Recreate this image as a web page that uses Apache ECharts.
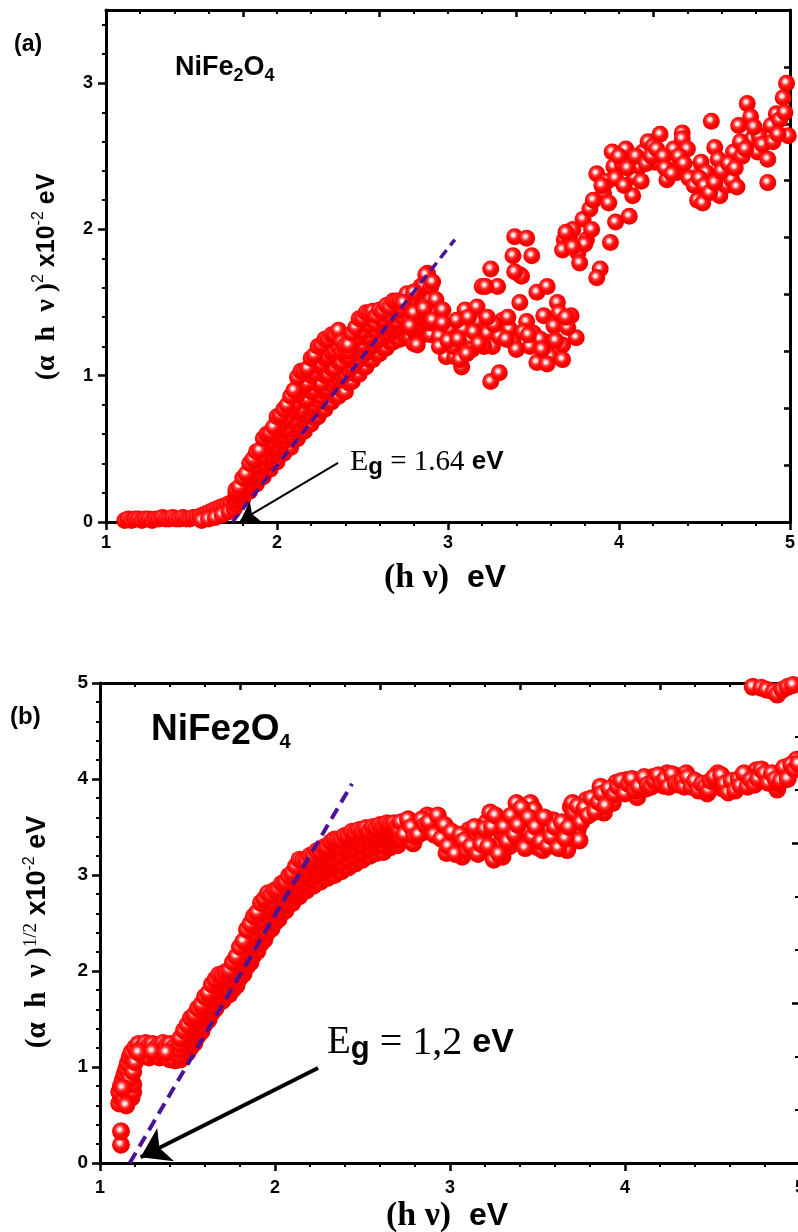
<!DOCTYPE html>
<html><head><meta charset="utf-8">
<script src="https://cdn.jsdelivr.net/npm/echarts@6/dist/echarts.min.js"></script>
<style>html,body{margin:0;padding:0;background:#fff}#c{width:798px;height:1232px}</style>
</head><body><div id="c"></div>
<script>
// ---------- Panel (a): (alpha h nu)^2 vs h nu ----------
const flatA = [[1.11,0.01],[1.13,0.02],[1.15,0.01],[1.17,0.02],[1.19,0.02],[1.21,0.01],[1.23,0.02],[1.25,0.02],[1.27,0.01],[1.29,0.02],[1.31,0.02],[1.33,0.03],[1.35,0.02],[1.37,0.02],[1.39,0.03],[1.41,0.02],[1.43,0.02],[1.45,0.03],[1.47,0.02],[1.49,0.02],[1.51,0.03],[1.53,0.03]];
const edgeA = [[1.55,0.04],[1.57,0.05],[1.59,0.06],[1.61,0.07],[1.63,0.08],[1.65,0.09],[1.67,0.10],[1.69,0.11],[1.71,0.12],[1.73,0.13],[1.75,0.15],[1.56,0.01],[1.60,0.02],[1.64,0.03],[1.68,0.05],[1.72,0.07],[1.75,0.09]];
const riseXA = [1.76,1.78,1.80,1.82,1.84,1.86,1.88,1.90,1.92,1.94,1.96,1.98,2.00,2.02,2.04,2.06,2.08,2.10,2.12,2.14,2.16,2.18,2.20,2.22,2.24,2.26,2.28,2.30,2.32,2.34,2.36,2.38,2.40,2.42,2.44,2.46,2.48,2.50,2.52,2.54,2.56,2.58,2.60,2.62,2.64,2.66,2.68,2.70,2.72,2.74,2.76,2.78,2.80,2.82,2.84,2.86,2.88,2.90];
const riseLoA  = [0.12,0.16,0.16,0.20,0.21,0.25,0.26,0.30,0.31,0.36,0.36,0.41,0.41,0.46,0.47,0.51,0.51,0.56,0.57,0.61,0.62,0.66,0.67,0.71,0.72,0.76,0.77,0.81,0.82,0.86,0.86,0.90,0.89,0.95,0.96,1.01,1.01,1.06,1.06,1.11,1.11,1.15,1.15,1.19,1.19,1.23,1.23,1.26,1.25,1.28,1.27,1.26,1.22,1.26,1.27,1.31,1.31,1.28];
const riseQ1A  = [0.15,0.17,0.20,0.23,0.26,0.28,0.32,0.34,0.38,0.41,0.44,0.46,0.50,0.52,0.55,0.58,0.60,0.63,0.66,0.69,0.73,0.75,0.78,0.80,0.83,0.86,0.89,0.91,0.94,0.96,0.98,1.00,1.01,1.04,1.06,1.09,1.11,1.14,1.16,1.19,1.21,1.23,1.25,1.26,1.28,1.29,1.31,1.32,1.33,1.34,1.35,1.33,1.31,1.33,1.35,1.38,1.40,1.36];
const riseMidA = [0.18,0.19,0.24,0.26,0.31,0.32,0.38,0.39,0.45,0.46,0.51,0.52,0.58,0.59,0.63,0.64,0.69,0.70,0.75,0.77,0.83,0.84,0.89,0.90,0.94,0.95,1.00,1.01,1.05,1.05,1.09,1.09,1.13,1.13,1.17,1.17,1.21,1.21,1.26,1.27,1.31,1.31,1.34,1.33,1.36,1.35,1.38,1.37,1.41,1.40,1.43,1.39,1.39,1.39,1.43,1.44,1.48,1.43];
const riseQ3A  = [0.20,0.22,0.27,0.30,0.35,0.38,0.43,0.44,0.51,0.53,0.55,0.59,0.65,0.66,0.70,0.72,0.77,0.80,0.87,0.90,0.93,0.95,1.00,1.02,1.07,1.08,1.12,1.13,1.16,1.17,1.20,1.16,1.17,1.17,1.23,1.25,1.30,1.30,1.35,1.35,1.38,1.36,1.40,1.38,1.42,1.41,1.45,1.44,1.46,1.46,1.50,1.45,1.48,1.48,1.52,1.53,1.59,1.52];
const riseHiA  = [0.22,0.24,0.30,0.33,0.40,0.43,0.48,0.49,0.57,0.60,0.61,0.65,0.72,0.73,0.77,0.80,0.86,0.90,0.99,1.03,1.03,1.05,1.12,1.14,1.20,1.21,1.25,1.25,1.28,1.28,1.31,1.23,1.21,1.21,1.29,1.33,1.39,1.39,1.43,1.43,1.44,1.41,1.45,1.44,1.48,1.47,1.51,1.51,1.51,1.52,1.56,1.51,1.57,1.57,1.61,1.62,1.70,1.61];
const clusterA = [[2.74,1.50],[2.80,1.57],[2.87,1.69],[2.91,1.64],[2.93,1.52],[2.80,1.43],[2.86,1.46],[2.78,1.34],[2.82,1.21],[2.97,1.45],[2.91,1.38],[3.01,1.32],[2.95,1.27],[2.99,1.13],[3.04,1.13],[3.08,1.06],[3.10,1.45],[3.17,1.47],[3.09,1.32],[3.13,1.25],[3.17,1.37],[3.19,1.29],[3.14,1.18],[3.23,1.29],[3.25,1.73],[3.20,1.61],[3.29,1.61],[3.25,0.96],[3.30,1.02],[3.26,1.20],[3.32,1.38],[3.36,1.32],[3.30,1.27],[3.38,1.23],[3.42,1.50],[3.38,1.82],[3.42,1.69],[3.49,1.82],[3.52,1.57],[3.58,1.61],[3.64,1.50],[3.46,1.37],[3.50,1.29],[3.56,1.41],[3.62,1.34],[3.65,1.43],[3.72,1.41],[3.75,1.26],[3.67,1.21],[3.60,1.23],[3.54,1.25],[3.48,1.20],[3.52,1.09],[3.60,1.13],[3.67,1.11],[3.58,1.08],[3.40,1.18],[3.03,1.20],[3.07,1.11],[2.95,1.20],[3.39,1.95],[3.46,1.94],[3.43,1.68],[3.22,1.61],[3.39,1.71],[3.05,1.38],[3.12,1.40],[3.21,1.20],[3.27,1.35],[3.34,1.25],[3.00,1.24],[3.15,1.30],[3.44,1.30],[3.70,1.33],[2.97,1.36],[3.06,1.25],[3.11,1.15],[3.18,1.22],[3.23,1.40],[3.35,1.40],[3.47,1.28],[3.55,1.18],[3.63,1.24],[3.69,1.40]];
const upperA = [[3.68,1.93],[3.71,1.94],[3.76,1.84],[3.77,1.77],[3.81,1.93],[3.79,2.07],[3.83,2.14],[3.67,1.86],[3.73,2.00],[3.89,1.73],[3.87,1.67],[3.95,1.91],[3.87,2.38],[3.91,2.25],[3.93,2.33],[3.94,2.18],[3.85,2.20],[3.96,2.53],[3.97,2.43],[4.02,2.45],[4.04,2.55],[4.06,2.09],[4.08,2.23],[4.09,2.36],[4.12,2.43],[4.14,2.53],[4.17,2.60],[4.20,2.57],[4.24,2.65],[4.21,2.46],[4.28,2.34],[4.30,2.46],[4.32,2.55],[4.37,2.66],[4.37,2.62],[4.40,2.55],[4.34,2.39],[4.43,2.41],[4.46,2.20],[4.49,2.18],[4.48,2.46],[4.51,2.39],[4.54,2.74],[4.56,2.56],[4.58,2.48],[4.59,2.23],[4.63,2.30],[4.66,2.34],[4.67,2.53],[4.69,2.29],[4.70,2.71],[4.72,2.50],[4.75,2.86],[4.77,2.77],[4.78,2.62],[4.82,2.64],[4.81,2.53],[4.87,2.32],[4.87,2.48],[4.89,2.71],[4.92,2.79],[4.94,2.75],[4.96,2.90],[4.98,3.00],[4.99,2.64],
  [3.90,2.30],[3.98,2.35],[4.00,2.50],[4.05,2.42],[4.10,2.50],[4.13,2.33],[4.16,2.45],[4.19,2.50],[4.22,2.55],[4.26,2.50],[4.27,2.42],[4.31,2.38],[4.35,2.50],[4.38,2.45],[4.41,2.35],[4.44,2.30],[4.47,2.35],[4.50,2.30],[4.53,2.25],[4.56,2.32],[4.60,2.40],[4.64,2.45],[4.68,2.42],[4.71,2.60],[4.74,2.55],[4.79,2.70],[4.84,2.58],[4.90,2.60],[4.93,2.65],[4.97,2.80],[3.98,2.05],[4.03,2.30],[3.80,1.90],[3.84,2.00],[3.73,1.88],[3.69,1.98]];
const fitA = [[1.74,0],[3.04,1.93]];
const arrowA = [[2.357,0.404],[1.786,0.008]];

// ---------- Panel (b): (alpha h nu)^(1/2) vs h nu ----------
const lowB = [[1.12,0.19],[1.12,0.33],[1.11,0.62],[1.12,0.68],[1.11,0.74],[1.12,0.80],[1.13,0.86],[1.14,0.92],[1.15,0.98],[1.16,1.04],[1.17,1.10],[1.18,1.15],[1.20,1.20],[1.22,1.24],[1.14,0.66],[1.16,0.72],[1.18,0.68],[1.19,0.74],[1.19,0.82],[1.17,0.88],[1.19,0.95],[1.20,1.05],[1.15,0.60],[1.13,0.78],[1.24,1.20],[1.26,1.25],[1.28,1.22],[1.30,1.24],[1.32,1.20],[1.34,1.23],[1.36,1.25],[1.38,1.22],[1.40,1.24],[1.42,1.20],[1.44,1.18],[1.25,1.12],[1.28,1.10],[1.31,1.13],[1.34,1.10],[1.37,1.12],[1.40,1.08],[1.43,1.07],[1.22,1.15],[1.30,1.16],[1.38,1.15],[1.45,1.12]];
const riseXB = [1.46,1.48,1.50,1.52,1.54,1.56,1.58,1.60,1.62,1.64,1.66,1.68,1.70,1.72,1.74,1.76,1.78,1.80,1.82,1.84,1.86,1.88,1.90,1.92,1.94,1.96,1.98,2.00,2.02,2.04,2.06,2.08,2.10,2.12,2.14,2.16,2.18,2.20,2.22,2.24,2.26,2.28,2.30,2.32,2.34,2.36,2.38,2.40,2.42,2.44,2.46,2.48,2.50,2.52,2.54,2.56,2.58,2.60,2.62,2.64,2.66,2.68,2.70];
const riseLoB  = [1.08,1.13,1.15,1.21,1.25,1.33,1.37,1.45,1.49,1.57,1.61,1.67,1.69,1.74,1.76,1.81,1.85,1.93,1.97,2.05,2.09,2.17,2.21,2.29,2.33,2.41,2.44,2.51,2.54,2.61,2.63,2.69,2.71,2.77,2.78,2.83,2.84,2.89,2.89,2.93,2.93,2.97,2.97,3.01,3.00,3.04,3.04,3.08,3.08,3.12,3.12,3.16,3.16,3.20,3.20,3.24,3.23,3.27,3.24,3.29,3.29,3.32,3.31];
const riseQ1B  = [1.12,1.19,1.22,1.29,1.33,1.41,1.44,1.51,1.56,1.63,1.67,1.74,1.76,1.81,1.84,1.89,1.93,2.01,2.05,2.13,2.18,2.27,2.31,2.40,2.44,2.52,2.54,2.61,2.64,2.70,2.72,2.78,2.80,2.86,2.87,2.92,2.93,2.97,2.98,3.01,3.02,3.05,3.06,3.09,3.10,3.13,3.13,3.17,3.17,3.21,3.21,3.24,3.24,3.28,3.28,3.31,3.30,3.33,3.31,3.35,3.35,3.38,3.37];
const riseMidB = [1.18,1.25,1.29,1.37,1.41,1.49,1.52,1.59,1.62,1.69,1.73,1.81,1.83,1.89,1.91,1.97,2.01,2.09,2.13,2.21,2.27,2.37,2.42,2.51,2.55,2.63,2.65,2.71,2.73,2.79,2.81,2.87,2.89,2.95,2.96,3.01,3.02,3.06,3.06,3.10,3.10,3.14,3.14,3.18,3.18,3.22,3.22,3.26,3.26,3.30,3.29,3.33,3.32,3.36,3.35,3.38,3.37,3.40,3.39,3.42,3.41,3.44,3.43];
const riseQ3B  = [1.24,1.31,1.37,1.44,1.48,1.55,1.59,1.66,1.70,1.77,1.83,1.88,1.90,1.94,1.97,2.03,2.08,2.17,2.22,2.32,2.38,2.47,2.52,2.61,2.65,2.72,2.72,2.78,2.79,2.85,2.87,2.93,2.95,3.02,3.06,3.08,3.09,3.13,3.13,3.17,3.17,3.21,3.22,3.26,3.28,3.29,3.30,3.33,3.34,3.37,3.37,3.40,3.39,3.42,3.41,3.44,3.43,3.46,3.45,3.48,3.47,3.49,3.47];
const riseHiB  = [1.30,1.38,1.44,1.51,1.54,1.61,1.65,1.73,1.77,1.86,1.91,1.96,1.96,1.99,2.01,2.09,2.15,2.25,2.31,2.43,2.49,2.57,2.61,2.71,2.75,2.81,2.79,2.84,2.85,2.91,2.93,2.99,3.02,3.09,3.16,3.15,3.15,3.20,3.20,3.25,3.25,3.29,3.29,3.34,3.37,3.37,3.37,3.41,3.41,3.45,3.44,3.47,3.46,3.49,3.46,3.50,3.49,3.52,3.51,3.54,3.53,3.54,3.51];
const plateauB = [[2.71,3.47],[2.73,3.38],[2.75,3.50],[2.77,3.42],[2.79,3.33],[2.81,3.50],[2.83,3.55],[2.85,3.45],[2.87,3.62],[2.89,3.60],[2.90,3.50],[2.92,3.55],[2.94,3.48],[2.96,3.44],[2.98,3.23],[3.00,3.35],[3.02,3.30],[3.04,3.40],[3.05,3.25],[3.07,3.19],[3.09,3.30],[3.11,3.47],[3.13,3.38],[3.15,3.28],[3.17,3.45],[3.19,3.40],[3.21,3.55],[3.23,3.65],[3.25,3.16],[3.26,3.30],[3.27,3.57],[3.29,3.45],[3.30,3.19],[3.32,3.40],[3.34,3.30],[3.36,3.50],[3.38,3.75],[3.40,3.60],[3.42,3.36],[3.44,3.45],[3.46,3.75],[3.48,3.68],[3.50,3.29],[3.51,3.54],[3.53,3.26],[3.55,3.40],[3.57,3.48],[3.59,3.57],[3.61,3.36],[3.63,3.44],[3.65,3.47],[3.67,3.26],[3.69,3.71],[3.70,3.75],[3.72,3.60],[3.73,3.47],[3.74,3.36],[3.76,3.62],[3.78,3.78],[3.80,3.70],[3.82,3.75],[3.84,3.71],[3.86,3.92],[3.88,3.65],[3.90,3.80],[3.93,3.75],[3.95,3.96],[3.97,3.88],[3.99,3.90],[4.01,3.99],[4.03,3.90],[4.05,3.92],[4.07,3.81],[4.10,3.96],[4.12,3.90],[4.14,3.98],[4.16,4.02],[4.18,3.95],[4.20,3.98],[4.22,3.93],[4.24,4.06],[4.26,3.96],[4.28,4.00],[4.30,3.99],[4.32,4.03],[4.35,4.06],[4.37,3.97],[4.39,3.99],[4.41,3.95],[4.43,3.92],[4.45,3.88],[4.47,3.85],[4.50,3.92],[4.52,3.98],[4.53,4.06],[4.54,3.99],[4.56,3.90],[4.58,3.89],[4.60,3.94],[4.62,3.92],[4.64,3.96],[4.67,4.02],[4.69,3.98],[4.71,3.96],[4.73,4.04],[4.75,4.09],[4.77,4.05],[4.79,4.02],[4.81,3.98],[4.83,4.02],[4.85,3.95],[4.87,3.89],[4.88,3.95],[4.90,4.06],[4.92,4.04],[4.94,4.09],[4.96,4.12],[4.98,4.20]];
const plateauB2 = [[2.72,3.55],[2.74,3.42],[2.76,3.58],[2.78,3.50],[2.80,3.40],[2.82,3.42],[2.84,3.58],[2.86,3.52],[2.88,3.55],[2.91,3.42],[2.93,3.62],[2.95,3.38],[2.97,3.52],[2.99,3.30],[3.01,3.45],[3.03,3.22],[3.06,3.42],[3.08,3.36],[3.10,3.25],[3.12,3.30],[3.14,3.50],[3.16,3.22],[3.18,3.32],[3.20,3.48],[3.22,3.30],[3.24,3.50],[3.26,3.62],[3.28,3.22],[3.31,3.50],[3.33,3.35],[3.35,3.62],[3.37,3.42],[3.39,3.52],[3.41,3.70],[3.43,3.28],[3.45,3.60],[3.47,3.40],[3.49,3.50],[3.52,3.35],[3.54,3.60],[3.56,3.30],[3.58,3.40],[3.60,3.50],[3.62,3.28],[3.64,3.55],[3.66,3.38],[3.68,3.50],[3.71,3.65],[3.73,3.72],[3.75,3.55],[3.77,3.70],[3.79,3.62],[3.81,3.80],[3.83,3.66],[3.85,3.76],[3.87,3.85],[3.89,3.72],[3.91,3.90],[3.94,3.84],[3.96,3.92],[3.98,3.98],[4.00,3.85],[4.02,3.95],[4.04,4.00],[4.06,3.88],[4.08,3.92],[4.11,4.02],[4.13,3.94],[4.15,3.92],[4.17,3.98],[4.19,4.04],[4.21,3.96],[4.23,4.00],[4.25,3.92],[4.27,4.05],[4.29,3.95],[4.31,3.94],[4.33,3.98],[4.34,3.92],[4.36,4.02],[4.38,3.92],[4.40,3.98],[4.42,3.88],[4.44,3.95],[4.46,3.92],[4.48,3.88],[4.49,3.98],[4.51,4.02],[4.55,4.04],[4.57,3.95],[4.59,3.86],[4.61,3.98],[4.63,3.88],[4.65,4.00],[4.66,3.93],[4.68,4.06],[4.70,3.92],[4.72,3.99],[4.74,3.94],[4.76,4.00],[4.78,4.10],[4.80,4.06],[4.82,3.96],[4.84,4.06],[4.86,4.00],[4.89,3.98],[4.91,4.12],[4.93,4.00],[4.95,4.15],[4.97,4.10],[4.99,4.16]];
const highB = [[4.73,4.96],[4.78,4.95],[4.81,4.93],[4.85,4.91],[4.87,4.88],[4.90,4.93],[4.93,4.96],[4.96,4.98]];
const fitB = [[1.17,0],[2.44,3.95]];
const arrowB = [[2.246,0.99],[1.232,0.06]];

// tick values
const yTicksA = [0,1,2,3];
const yMinorA = [0.2,0.4,0.6,0.8,1.2,1.4,1.6,1.8,2.2,2.4,2.6,2.8,3.2,3.4];

function rows(xs, cols) {
  const out = [];
  cols.forEach(function (c) {
    const n = Math.min(xs.length, c.length);
    for (let i = 0; i < n; i++) out.push([xs[i], c[i]]);
  });
  return out;
}
const pointsA = flatA.concat(edgeA, rows(riseXA, [riseLoA, riseQ1A, riseMidA, riseQ3A, riseHiA]), clusterA, upperA);
const pointsB = lowB.concat(rows(riseXB, [riseLoB, riseQ1B, riseMidB, riseQ3B, riseHiB]), plateauB, plateauB2, highB);

const chart = echarts.init(document.getElementById('c'), null, {renderer: 'canvas'});
const SANS = 'Liberation Sans, Arial, sans-serif';
const SERIF = 'Liberation Serif, Times New Roman, serif';
const BLACK = '#000';
const ball = {
  type: 'radial', x: 0.42, y: 0.4, r: 0.6,
  colorStops: [
    {offset: 0, color: '#ffffff'},
    {offset: 0.16, color: '#ffd8d8'},
    {offset: 0.38, color: '#ff3030'},
    {offset: 0.65, color: '#ff0000'},
    {offset: 1, color: '#f00000'}
  ]
};
const lineCol = '#4a1499';

function xBottom(grid, margin) {
  return {
    type: 'value', gridIndex: grid, position: 'bottom', min: 1, max: 5, interval: 1,
    axisLine: {show: true, onZero: false, lineStyle: {color: BLACK, width: 3}},
    axisTick: {show: true, inside: false, length: 8, lineStyle: {color: BLACK, width: 2.5}},
    minorTick: {show: true, splitNumber: 5, length: 4, lineStyle: {color: BLACK, width: 2}},
    axisLabel: {show: true, margin: margin, color: BLACK, fontFamily: SANS, fontWeight: 'bold', fontSize: 18},
    splitLine: {show: false}
  };
}
function xTop(grid) {
  return {
    type: 'value', gridIndex: grid, position: 'top', min: 0, max: 5, interval: 1,
    axisLine: {show: true, onZero: false, lineStyle: {color: BLACK, width: 3}},
    axisTick: {show: true, inside: true, length: 7, lineStyle: {color: BLACK, width: 2.5}},
    minorTick: {show: true, splitNumber: 4, length: 4, lineStyle: {color: BLACK, width: 2}},
    axisLabel: {show: false}, splitLine: {show: false}
  };
}

const option = {
  animation: false,
  backgroundColor: '#fff',
  grid: [
    {left: 106, top: 10, width: 684, height: 512, containLabel: false, outerBoundsMode: 'none'},
    {left: 100, top: 683, width: 700, height: 480, containLabel: false, outerBoundsMode: 'none'}
  ],
  xAxis: [xBottom(0, 12), xTop(0), xBottom(1, 16), xTop(1)],
  yAxis: [
    { // 0: panel a left
      type: 'value', gridIndex: 0, position: 'left', min: 0, max: 3.5,
      axisLine: {show: true, onZero: false, lineStyle: {color: BLACK, width: 3}},
      axisTick: {show: true, inside: false, length: 8, customValues: yTicksA, lineStyle: {color: BLACK, width: 2.5}},
      axisLabel: {show: true, customValues: yTicksA, margin: 13, color: BLACK, fontFamily: SANS, fontWeight: 'bold', fontSize: 18},
      splitLine: {show: false}
    },
    { // 1: panel a right
      type: 'value', gridIndex: 0, position: 'right', min: 0, max: 9, interval: 1,
      axisLine: {show: true, onZero: false, lineStyle: {color: BLACK, width: 3}},
      axisTick: {show: true, inside: true, length: 6, lineStyle: {color: BLACK, width: 2.5}},
      axisLabel: {show: false}, splitLine: {show: false}
    },
    { // 2: panel a left minor ticks
      type: 'value', gridIndex: 0, position: 'left', min: 0, max: 3.5,
      axisLine: {show: false},
      axisTick: {show: true, inside: false, length: 4, customValues: yMinorA, lineStyle: {color: BLACK, width: 2}},
      axisLabel: {show: false}, splitLine: {show: false}
    },
    { // 3: panel b left
      type: 'value', gridIndex: 1, position: 'left', min: 0, max: 5, interval: 1,
      axisLine: {show: true, onZero: false, lineStyle: {color: BLACK, width: 3}},
      axisTick: {show: true, inside: false, length: 8, lineStyle: {color: BLACK, width: 2.5}},
      minorTick: {show: true, splitNumber: 5, length: 4, lineStyle: {color: BLACK, width: 2}},
      axisLabel: {show: true, margin: 12, color: BLACK, fontFamily: SANS, fontWeight: 'bold', fontSize: 19},
      splitLine: {show: false}
    },
    { // 4: panel b right
      type: 'value', gridIndex: 1, position: 'right', min: 0, max: 3, interval: 1,
      axisLine: {show: true, onZero: false, lineStyle: {color: BLACK, width: 3}},
      axisTick: {show: true, inside: true, length: 8, lineStyle: {color: BLACK, width: 2.5}},
      minorTick: {show: true, splitNumber: 3, length: 5, lineStyle: {color: BLACK, width: 2}},
      axisLabel: {show: false}, splitLine: {show: false}
    }
  ],
  series: [
    {
      type: 'scatter', xAxisIndex: 0, yAxisIndex: 0, data: pointsA,
      symbol: 'circle', symbolSize: 17, itemStyle: {color: ball, opacity: 1}, silent: true, z: 2
    },
    {
      type: 'line', xAxisIndex: 0, yAxisIndex: 0, data: fitA, symbol: 'none', showSymbol: false,
      lineStyle: {type: [10, 6], width: 3.5, color: lineCol}, silent: true, z: 4,
      markLine: {
        silent: true, animation: false, symbol: ['none', 'arrow'], symbolSize: 18,
        label: {show: false}, lineStyle: {color: BLACK, width: 2, type: 'solid'},
        emphasis: {disabled: true},
        data: [[{coord: arrowA[0]}, {coord: arrowA[1]}]]
      }
    },
    {
      type: 'scatter', xAxisIndex: 2, yAxisIndex: 3, data: pointsB,
      symbol: 'circle', symbolSize: 18, itemStyle: {color: ball, opacity: 1}, silent: true, z: 2
    },
    {
      type: 'line', xAxisIndex: 2, yAxisIndex: 3, data: fitB, symbol: 'none', showSymbol: false,
      lineStyle: {type: [12, 7], width: 4, color: lineCol}, silent: true, z: 4,
      markLine: {
        silent: true, animation: false, symbol: ['none', 'arrow'], symbolSize: 28,
        label: {show: false}, lineStyle: {color: BLACK, width: 4, type: 'solid'},
        emphasis: {disabled: true},
        data: [[{coord: arrowB[0]}, {coord: arrowB[1]}]]
      }
    }
  ],
  graphic: [
    {type: 'text', x: 14, y: 45, style: {text: '(a)', fill: BLACK, font: 'bold 23px ' + SANS, align: 'left', verticalAlign: 'middle'}},
    {type: 'text', x: 175, y: 68, style: {
      text: '{b|NiFe}{s|2}{b|O}{s|4}', align: 'left', verticalAlign: 'middle',
      rich: {
        b: {fontFamily: SANS, fontWeight: 'bold', fontSize: 27, lineHeight: 34, fill: BLACK},
        s: {fontFamily: SANS, fontWeight: 'bold', fontSize: 18, lineHeight: 20, verticalAlign: 'bottom', fill: BLACK}
      }}},
    {type: 'text', x: 47, y: 277, rotation: Math.PI / 2, style: {
      text: '{p|(\u03b1  h  \u03bd )}{u|2}{b| x10}{u|-2}{b| eV}', align: 'center', verticalAlign: 'middle',
      rich: {
        p: {fontFamily: SERIF, fontWeight: 'bold', fontSize: 28, lineHeight: 32, fill: BLACK},
        u: {fontFamily: SANS, fontWeight: 'normal', fontSize: 16, lineHeight: 18, verticalAlign: 'top', fill: BLACK},
        b: {fontFamily: SANS, fontWeight: 'bold', fontSize: 25, lineHeight: 32, fill: BLACK}
      }}},
    {type: 'text', x: 445, y: 578, style: {
      text: '{p|(h \u03bd)}{b|  eV}', align: 'center', verticalAlign: 'middle',
      rich: {
        p: {fontFamily: SERIF, fontWeight: 'bold', fontSize: 34, lineHeight: 38, fill: BLACK},
        b: {fontFamily: SANS, fontWeight: 'bold', fontSize: 32, lineHeight: 38, fill: BLACK}
      }}},
    {type: 'text', x: 350, y: 462, style: {
      text: '{e|E}{g|g}{t| = 1.64 }{b|eV}', align: 'left', verticalAlign: 'middle',
      rich: {
        e: {fontFamily: SERIF, fontSize: 30, lineHeight: 34, fill: BLACK},
        g: {fontFamily: SANS, fontWeight: 'bold', fontSize: 24, lineHeight: 24, verticalAlign: 'bottom', fill: BLACK},
        t: {fontFamily: SERIF, fontSize: 29, lineHeight: 34, fill: BLACK},
        b: {fontFamily: SANS, fontWeight: 'bold', fontSize: 26, lineHeight: 34, fill: BLACK}
      }}},
    {type: 'text', x: 10, y: 717, style: {text: '(b)', fill: BLACK, font: 'bold 24px ' + SANS, align: 'left', verticalAlign: 'middle'}},
    {type: 'text', x: 151, y: 730, style: {
      text: '{b|NiFe}{m|2}{b|O}{s|4}', align: 'left', verticalAlign: 'middle',
      rich: {
        b: {fontFamily: SANS, fontWeight: 'bold', fontSize: 37, lineHeight: 44, fill: BLACK},
        m: {fontFamily: SANS, fontWeight: 'bold', fontSize: 35, lineHeight: 32, verticalAlign: 'bottom', fill: BLACK},
        s: {fontFamily: SANS, fontWeight: 'bold', fontSize: 20, lineHeight: 26, verticalAlign: 'bottom', fill: BLACK}
      }}},
    {type: 'text', x: 38, y: 932, rotation: Math.PI / 2, style: {
      text: '{p|(\u03b1  h  \u03bd )}{u|1/2}{b| x10}{v|-2}{b| eV}', align: 'center', verticalAlign: 'middle',
      rich: {
        p: {fontFamily: SERIF, fontWeight: 'bold', fontSize: 29, lineHeight: 32, fill: BLACK},
        u: {fontFamily: SERIF, fontSize: 19, lineHeight: 20, verticalAlign: 'top', fill: BLACK},
        v: {fontFamily: SANS, fontSize: 16, lineHeight: 20, verticalAlign: 'top', fill: BLACK},
        b: {fontFamily: SANS, fontWeight: 'bold', fontSize: 27, lineHeight: 32, fill: BLACK}
      }}},
    {type: 'text', x: 447, y: 1216, style: {
      text: '{p|(h \u03bd)}{b|  eV}', align: 'center', verticalAlign: 'middle',
      rich: {
        p: {fontFamily: SERIF, fontWeight: 'bold', fontSize: 34, lineHeight: 38, fill: BLACK},
        b: {fontFamily: SANS, fontWeight: 'bold', fontSize: 32, lineHeight: 38, fill: BLACK}
      }}},
    {type: 'text', x: 327, y: 1043, style: {
      text: '{e|E}{g|g}{t| = 1,2 }{b|eV}', align: 'left', verticalAlign: 'middle',
      rich: {
        e: {fontFamily: SERIF, fontSize: 39, lineHeight: 44, fill: BLACK},
        g: {fontFamily: SANS, fontWeight: 'bold', fontSize: 31, lineHeight: 31, verticalAlign: 'bottom', fill: BLACK},
        t: {fontFamily: SERIF, fontSize: 40, lineHeight: 44, fill: BLACK},
        b: {fontFamily: SANS, fontWeight: 'bold', fontSize: 34, lineHeight: 44, fill: BLACK}
      }}}
  ]
};
chart.setOption(option);
</script></body></html>
